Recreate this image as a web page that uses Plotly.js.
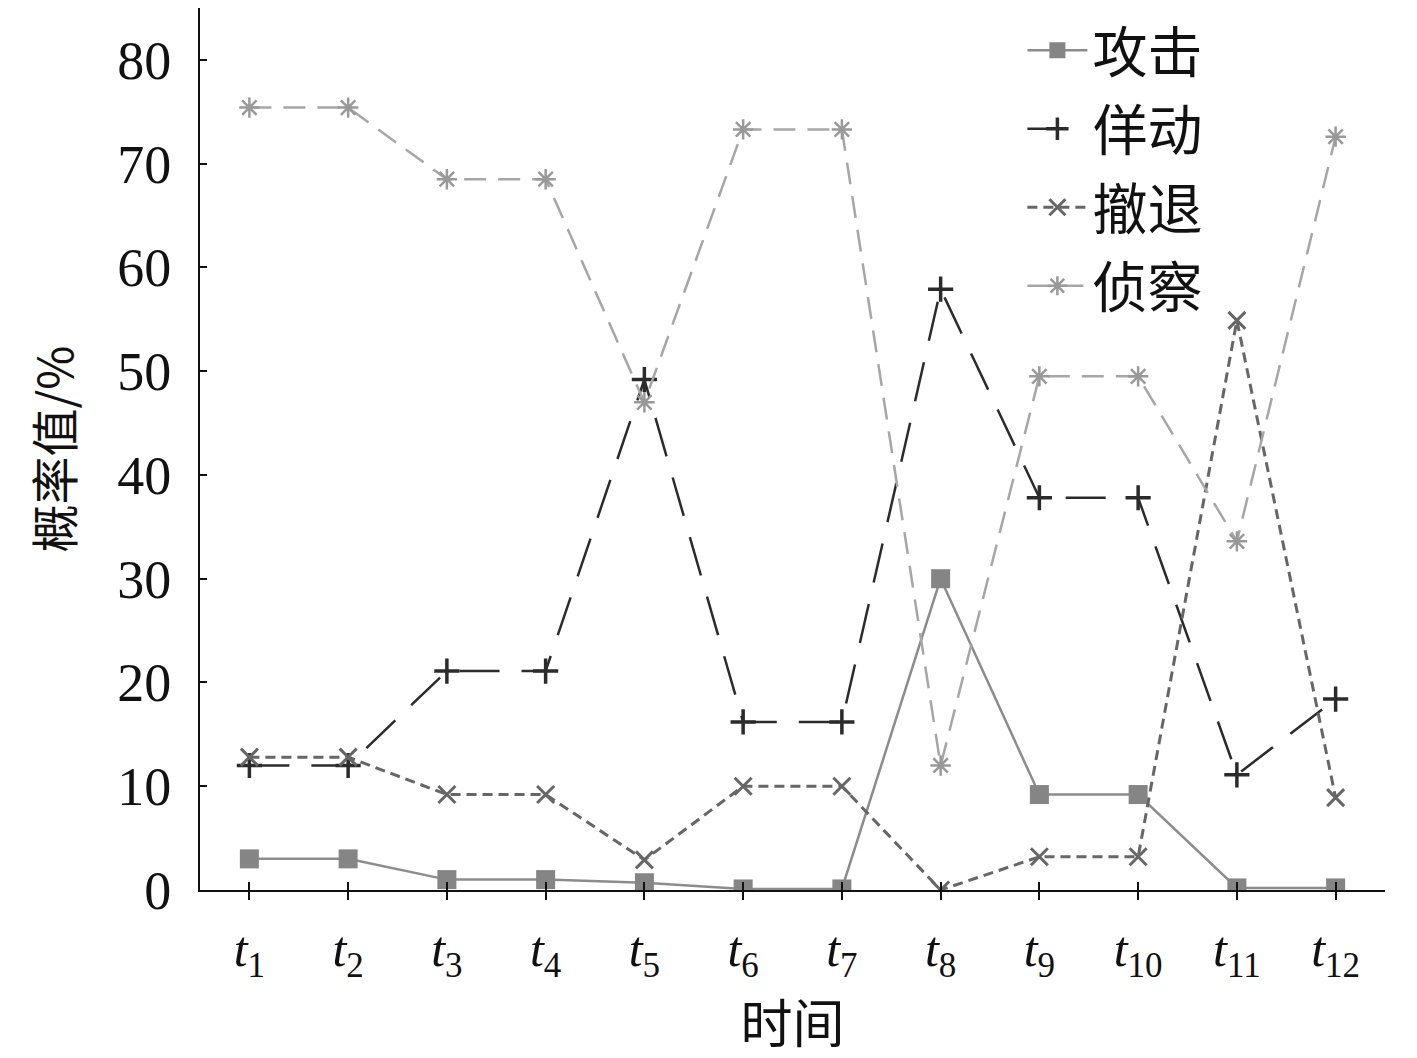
<!DOCTYPE html>
<html><head><meta charset="utf-8">
<script src="https://cdn.plot.ly/plotly-3.0.1.min.js"></script>
<style>body{margin:0;background:#fff}#c{width:1417px;height:1058px}</style>
</head><body><div id="c"></div>
<script>
const categories = ['t1','t2','t3','t4','t5','t6','t7','t8','t9','t10','t11','t12'];
const tickLabels = categories.map(c => '<i>t</i><sub>' + c.slice(1) + '</sub>');
const attack   = [3.0, 3.0, 1.0, 1.0, 0.7, 0.1, 0.1, 30.0, 9.2, 9.2, 0.2, 0.2];
const feint    = [12.0, 12.0, 21.1, 21.1, 49.2, 16.2, 16.2, 57.9, 37.8, 37.8, 11.1, 18.4];
const retreat  = [12.8, 12.8, 9.2, 9.2, 2.9, 10.0, 10.0, 0.0, 3.2, 3.2, 54.9, 8.9];
const scout    = [75.4, 75.4, 68.5, 68.5, 47.0, 73.3, 73.3, 12.0, 49.5, 49.5, 33.6, 72.6];
const names = ['攻击','佯动','撤退','侦察'];

const xi = categories.map((_, i) => i);
const traces = [
  {x: xi, y: attack, name: names[0], legendgroup: 'a', mode: 'lines+markers',
   line: {color: '#8c8c8c', width: 2.5},
   marker: {symbol: 'square', size: 19, color: '#858585'}},
  {x: xi, y: feint, name: names[1], legendgroup: 'b', mode: 'lines+markers',
   line: {color: '#2b2b2b', width: 2.5, dash: '40px,22px'},
   marker: {symbol: 'cross-thin', size: 18, color: '#2b2b2b', line: {color: '#2b2b2b', width: 3.5}}},
  {x: xi, y: retreat, name: names[2], legendgroup: 'c', mode: 'lines+markers',
   line: {color: '#666666', width: 3, dash: '10px,6px'},
   marker: {symbol: 'x-thin', size: 17, color: '#666666', line: {color: '#666666', width: 3}}},
  {x: xi, y: scout, name: names[3], legendgroup: 'd', mode: 'lines+markers',
   line: {color: '#a6a6a6', width: 2.5, dash: '22px,12px'},
   marker: {symbol: 'asterisk', size: 17, color: '#999999', line: {color: '#999999', width: 2.5}}}
];

const layout = {
  width: 1417, height: 1058,
  margin: {l: 200, r: 32, t: 8, b: 168, autoexpand: false},
  paper_bgcolor: '#fff', plot_bgcolor: '#fff',
  font: {family: '"Liberation Serif", "Noto Sans CJK SC", serif', color: '#111'},
  showlegend: true,
  legend: {x: 0.694, y: 1.0, xanchor: 'left', yanchor: 'top', traceorder: 'grouped', tracegroupgap: 4,
           font: {size: 55, family: '"Liberation Serif", "Noto Sans CJK SC", serif', color: '#111'},
           bgcolor: 'rgba(0,0,0,0)', itemwidth: 60},
  xaxis: {
    range: [-0.5, 11.5], tickmode: 'array', tickvals: xi, ticktext: tickLabels,
    showline: true, linecolor: '#111', linewidth: 2, mirror: false,
    ticks: 'outside', ticklen: 8, tickwidth: 2, tickcolor: '#111',
    showgrid: false, zeroline: false, ticklabelstandoff: 6, automargin: false,
    tickfont: {size: 50, family: '"Liberation Serif", serif', color: '#111'},
    title: {text: '时间', font: {size: 52, family: '"Noto Sans CJK SC", sans-serif', color: '#111'}, standoff: 14}
  },
  xaxis2: {
    overlaying: 'x', matches: 'x', range: [-0.5, 11.5], tickmode: 'array', tickvals: xi,
    showticklabels: false, ticks: 'inside', ticklen: 8, tickwidth: 2, tickcolor: '#111',
    showgrid: false, zeroline: false, showline: false, side: 'bottom', automargin: false
  },
  yaxis: {
    range: [0, 85], tickmode: 'array', tickvals: [0,10,20,30,40,50,60,70,80],
    showline: true, linecolor: '#111', linewidth: 2,
    ticks: 'inside', ticklen: 7, tickwidth: 2, tickcolor: '#111',
    showgrid: false, zeroline: false, ticklabelstandoff: 16, automargin: false,
    tickfont: {size: 54, family: '"Liberation Serif", serif', color: '#111'},
    title: {text: '概率值/%', font: {size: 48, family: '"Noto Sans CJK SC", sans-serif', color: '#111'}, standoff: 28}
  }
};
traces.push({x: [0], y: [null], xaxis: 'x2', showlegend: false, hoverinfo: 'skip', mode: 'lines'});
Plotly.newPlot('c', traces, layout, {staticPlot: true});
</script></body></html>
